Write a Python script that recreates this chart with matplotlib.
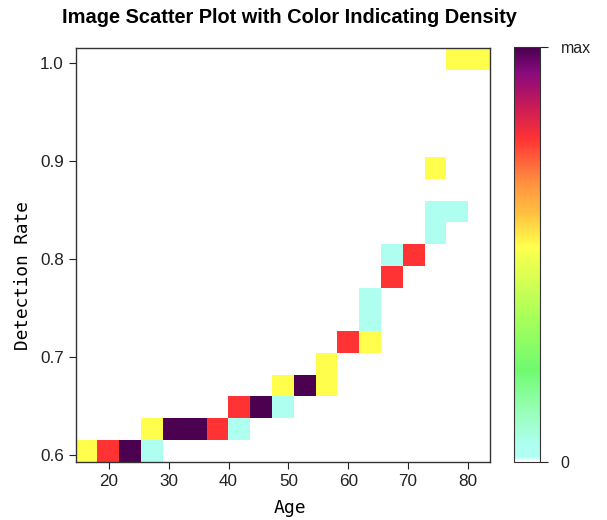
import numpy as np
import matplotlib
matplotlib.use('Agg')
import matplotlib.pyplot as plt
from matplotlib.colors import LinearSegmentedColormap, FuncNorm

# grid of the image plot (19 x 19 bins)
n_bins = 19
age_lo, age_hi = 14.45, 83.7
rate_lo, rate_hi = 0.5932, 1.0153

# occupied bins: column index (age), row index (rate), count
bin_col = [0, 1, 2, 3, 3, 4, 5, 6, 7, 7, 8, 9, 9, 10, 11, 11, 12, 13, 13, 13,
           14, 14, 15, 16, 16, 17, 16, 17, 18]
bin_row = [0, 0, 0, 0, 1, 1, 1, 1, 1, 2, 2, 2, 3, 3, 3, 4, 5, 5, 6, 7,
           8, 9, 9, 10, 11, 11, 13, 18, 18]
bin_count = [2, 3, 4, 1, 2, 4, 4, 3, 1, 3, 4, 1, 2, 4, 2, 2, 3, 2, 1, 1,
             3, 1, 3, 1, 1, 1, 2, 2, 2]

count_levels = [0, 1, 2, 3, 4]
level_pos = [0.0, 0.03, 0.52, 0.78, 1.0]

x_ticks = [20, 30, 40, 50, 60, 70, 80]
y_ticks = [0.6, 0.7, 0.8, 0.9, 1.0]

cmap = LinearSegmentedColormap.from_list('dens', [
    (0.0, '#ffffff'), (0.012, '#b0fff0'), (0.04, '#aefff0'), (0.12, '#98ffb8'),
    (0.22, '#70fa70'), (0.35, '#a8ff58'), (0.52, '#ffff4d'), (0.60, '#ffc040'),
    (0.68, '#ff8c40'), (0.78, '#ff3333'), (0.87, '#c0185c'), (0.94, '#8a0a7e'),
    (1.0, '#4b0050')], N=256)

norm = FuncNorm((lambda v: np.interp(v, count_levels, level_pos),
                 lambda p: np.interp(p, level_pos, count_levels)), vmin=0, vmax=4)

grid = np.zeros((n_bins, n_bins))
for c, r, n in zip(bin_col, bin_row, bin_count):
    grid[r, c] = n
grid = np.ma.masked_equal(grid, 0)

x_edges = np.linspace(age_lo, age_hi, n_bins + 1)
y_edges = np.linspace(rate_lo, rate_hi, n_bins + 1)

plt.rcParams['font.family'] = ['Liberation Sans', 'DejaVu Sans']

fig = plt.figure(figsize=(6.07, 5.2), dpi=100)
ax = fig.add_axes([0.1247, 0.1121, 0.6825, 0.795])
cax = fig.add_axes([0.8468, 0.1115, 0.0428, 0.7975])

mesh = ax.pcolormesh(x_edges, y_edges, grid, cmap=cmap, norm=norm,
                     edgecolors='none', antialiased=False)
ax.set_xlim(age_lo, age_hi)
ax.set_ylim(rate_lo, rate_hi)
ax.set_xticks(x_ticks)
ax.set_yticks(y_ticks)
ax.set_yticklabels(['%.1f' % v for v in y_ticks])
ax.tick_params(direction='out', length=5, width=0.8, labelsize=12.3, colors='#222222')
ax.tick_params(axis='x', pad=4)
for s in ax.spines.values():
    s.set_color('#333333')
    s.set_linewidth(1.0)

ax.set_xlabel('Age', family='DejaVu Sans Mono', fontsize=13)
ax.set_ylabel('Detection Rate', family='DejaVu Sans Mono', fontsize=12.8)
ax.xaxis.set_label_coords(0.517, -0.09)
ax.yaxis.set_label_coords(-0.106, 0.45)
ax.text(0.515, 1.075, 'Image Scatter Plot with Color Indicating Density',
        transform=ax.transAxes, ha='center', va='center', fontsize=14.4,
        fontweight='bold')

cb = fig.colorbar(mesh, cax=cax)
cb.set_ticks([0, 4])
cb.set_ticklabels(['0', 'max'])
cb.ax.tick_params(length=6, width=0.8, pad=9, labelsize=11.5, colors='#222222')
cb.outline.set_edgecolor('#333333')

fig.savefig('out.png', dpi=100)
